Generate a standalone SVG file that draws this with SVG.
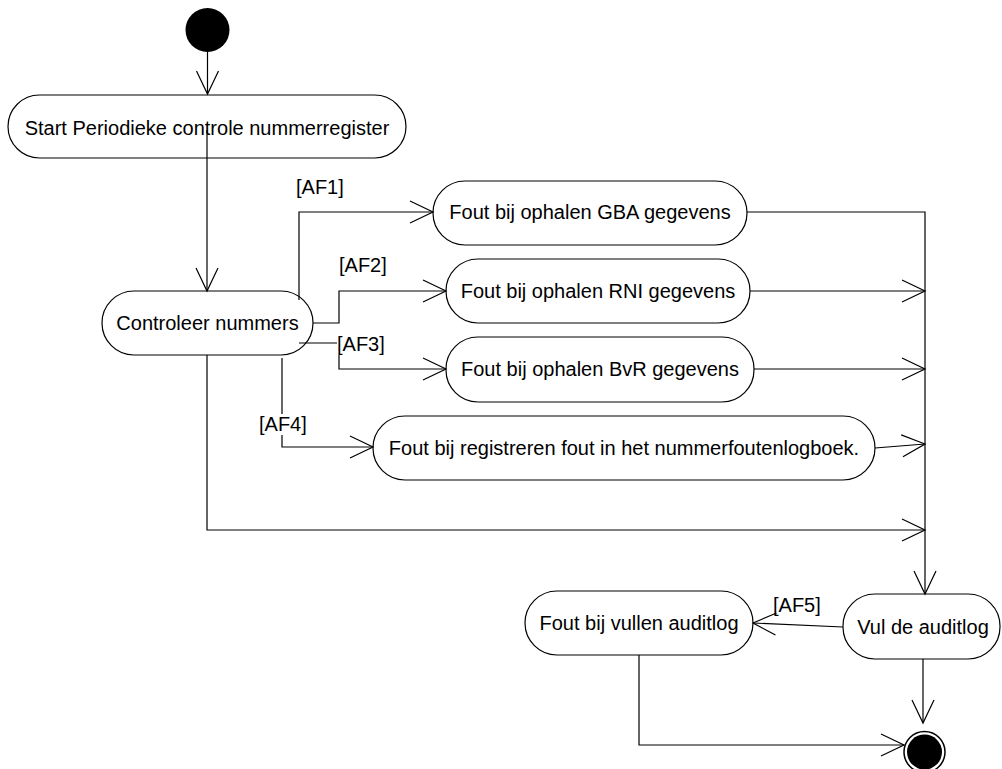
<svg xmlns="http://www.w3.org/2000/svg" width="1002" height="769" viewBox="0 0 1002 769">
<style>
.node rect{fill:#fff;stroke:#000;stroke-width:1.2}
text{font-family:"Liberation Sans",Arial,sans-serif;font-size:20px;fill:#000}
.c{text-anchor:middle}
.conn path{fill:none;stroke:#000;stroke-width:1.2}
</style>
<defs>
<marker id="arr" markerUnits="userSpaceOnUse" markerWidth="26" markerHeight="26" refX="23" refY="11" orient="auto" overflow="visible">
<path d="M0,0 L23,11 L0,22" fill="none" stroke="#000" stroke-width="1.2"/>
</marker>
</defs>
<rect width="1002" height="769" fill="#fff"/>
<g id="start"><circle cx="207.5" cy="30" r="22" fill="#000"/></g>
<g id="n_start" class="node">
<rect x="8" y="95" width="398" height="63" rx="31.5"/>
<text class="c" x="207" y="135">Start Periodieke controle nummerregister</text>
</g>
<g id="n_controleer" class="node">
<rect x="102" y="291" width="211" height="64" rx="32"/>
<text class="c" x="207.5" y="330">Controleer nummers</text>
</g>
<g id="n_gba" class="node">
<rect x="433" y="181" width="314" height="64" rx="32"/>
<text class="c" x="590" y="219">Fout bij ophalen GBA gegevens</text>
</g>
<g id="n_rni" class="node">
<rect x="446" y="259" width="304" height="64" rx="32"/>
<text class="c" x="598" y="298">Fout bij ophalen RNI gegevens</text>
</g>
<g id="n_bvr" class="node">
<rect x="446" y="337" width="308" height="65" rx="32"/>
<text class="c" x="600" y="376">Fout bij ophalen BvR gegevens</text>
</g>
<g id="n_reg" class="node">
<rect x="373" y="416" width="502" height="64" rx="32"/>
<text class="c" x="624" y="455">Fout bij registreren fout in het nummerfoutenlogboek.</text>
</g>
<g id="n_vul" class="node">
<rect x="843" y="594" width="157" height="65" rx="32"/>
<text class="c" x="923" y="634">Vul de auditlog</text>
</g>
<g id="n_fvul" class="node">
<rect x="525" y="591" width="228" height="64" rx="32"/>
<text class="c" x="639" y="630">Fout bij vullen auditlog</text>
</g>
<g id="end">
<circle cx="924.5" cy="752" r="20.5" fill="#fff" stroke="#000" stroke-width="1.5"/>
<circle cx="924.5" cy="752" r="17.5" fill="#000"/>
</g>
<g id="connectors" class="conn">
<path d="M207.5,52 V94" marker-end="url(#arr)"/>
<path d="M207,130 V291" marker-end="url(#arr)"/>
<path d="M299,300 V212 H433" marker-end="url(#arr)"/>
<path d="M313,323 H339 V291 H446" marker-end="url(#arr)"/>
<path d="M299,343 H337"/>
<path d="M339,355 V369 H446" marker-end="url(#arr)"/>
<path d="M282,358 V414"/>
<path d="M282,435 V447 H373" marker-end="url(#arr)"/>
<path d="M747,212 H925 V594" marker-end="url(#arr)"/>
<path d="M750,291 H925" marker-end="url(#arr)"/>
<path d="M754,369 H925" marker-end="url(#arr)"/>
<path d="M875,448 L925,444" marker-end="url(#arr)"/>
<path d="M207,355 V530 H925" marker-end="url(#arr)"/>
<path d="M843,627 L753,623" marker-end="url(#arr)"/>
<path d="M923,659 V723" marker-end="url(#arr)"/>
<path d="M639,655 V745 H904" marker-end="url(#arr)"/>
</g>
<g id="labels">
<text x="296" y="194">[AF1]</text>
<text x="339" y="272">[AF2]</text>
<text x="337" y="351">[AF3]</text>
<text x="259" y="431">[AF4]</text>
<text x="773" y="612">[AF5]</text>
</g>
</svg>
